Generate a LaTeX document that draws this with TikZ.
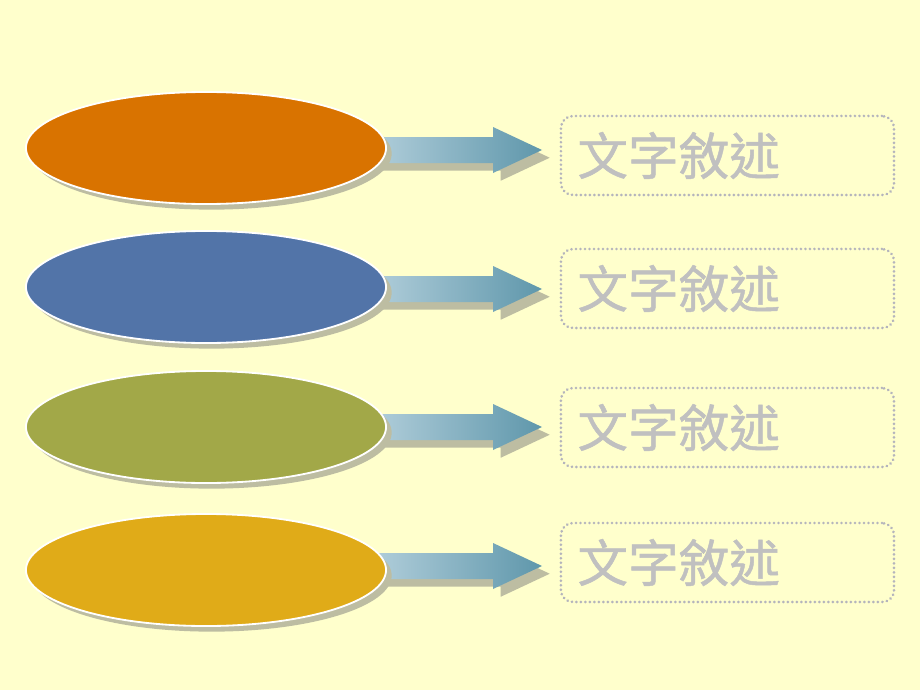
\documentclass[tikz,border=0pt]{standalone}
\usepackage{fontspec}
\newfontfamily\cjk[FakeBold=0.9]{Noto Sans CJK TC}
\usetikzlibrary{shapes.geometric,shadows}
\definecolor{bgyellow}{HTML}{FFFFCC}
\definecolor{ovalorange}{HTML}{D97300}
\definecolor{ovalblue}{HTML}{5274A8}
\definecolor{ovalolive}{HTML}{A2A848}
\definecolor{ovalgold}{HTML}{E0AB18}
\definecolor{shadowgray}{HTML}{BDBDA2}
\definecolor{arrowlight}{HTML}{B4D0DC}
\definecolor{arrowdark}{HTML}{5F97AB}
\definecolor{boxgray}{HTML}{B4B4BC}
\definecolor{textgray}{HTML}{C0C0C0}

\begin{document}
\begin{tikzpicture}[x=0.025cm, y=-0.025cm,
    oval/.style ={ellipse, draw=white, line width=1.3pt, minimum width=9cm,
      minimum height=2.8cm, inner sep=0pt,
      drop shadow={shadow xshift=4pt, shadow yshift=-4pt, fill=shadowgray, opacity=1}},
    textbox/.style ={rectangle, rounded corners=0.3cm, draw=boxgray, line width=2pt,
      dash pattern=on 0.1pt off 3.1pt, line cap=round, minimum width=8.325cm,
      minimum height=1.975cm, text width=7.5cm, inner xsep=0.41cm, align=left,
      text=textgray, font=\cjk\fontsize{36}{40}\selectfont},
    blockarrow/.style ={left color=arrowlight, right color=arrowdark,
      drop shadow={shadow xshift=5.5pt, shadow yshift=-5.5pt, fill=shadowgray, opacity=1}}]
   \fill[bgyellow] (0,0) rectangle (920,690);
   % arrows first, so the ovals cover their tails
   \coordinate (a1) at (386,150);
   \coordinate (a2) at (386,289);
   \coordinate (a3) at (386,427);
   \coordinate (a4) at (386,566);
   \shade[blockarrow] ([shift={(-20,-13)}]a1) -- ++(127,0) -- ++(0,-10) -- ([shift={(156,0)}]a1)
      -- ([shift={(107,23)}]a1) -- ++(0,-10) -- ++(-127,0) -- cycle;
   \shade[blockarrow] ([shift={(-20,-13)}]a2) -- ++(127,0) -- ++(0,-10) -- ([shift={(156,0)}]a2)
      -- ([shift={(107,23)}]a2) -- ++(0,-10) -- ++(-127,0) -- cycle;
   \shade[blockarrow] ([shift={(-20,-13)}]a3) -- ++(127,0) -- ++(0,-10) -- ([shift={(156,0)}]a3)
      -- ([shift={(107,23)}]a3) -- ++(0,-10) -- ++(-127,0) -- cycle;
   \shade[blockarrow] ([shift={(-20,-13)}]a4) -- ++(127,0) -- ++(0,-10) -- ([shift={(156,0)}]a4)
      -- ([shift={(107,23)}]a4) -- ++(0,-10) -- ++(-127,0) -- cycle;
   % ovals
   \node[oval, fill=ovalorange] (o1) at (206,148) {};
   \node[oval, fill=ovalblue] (o2) at (206,287) {};
   \node[oval, fill=ovalolive] (o3) at (206,427) {};
   \node[oval, fill=ovalgold] (o4) at (206,570) {};
   % text boxes
   \node[textbox] (t1) at (727.5,155.5) {文字敘述};
   \node[textbox] (t2) at (727.5,288.5) {文字敘述};
   \node[textbox] (t3) at (727.5,427.5) {文字敘述};
   \node[textbox] (t4) at (727.5,562.5) {文字敘述};
 \end{tikzpicture}
\end{document}
